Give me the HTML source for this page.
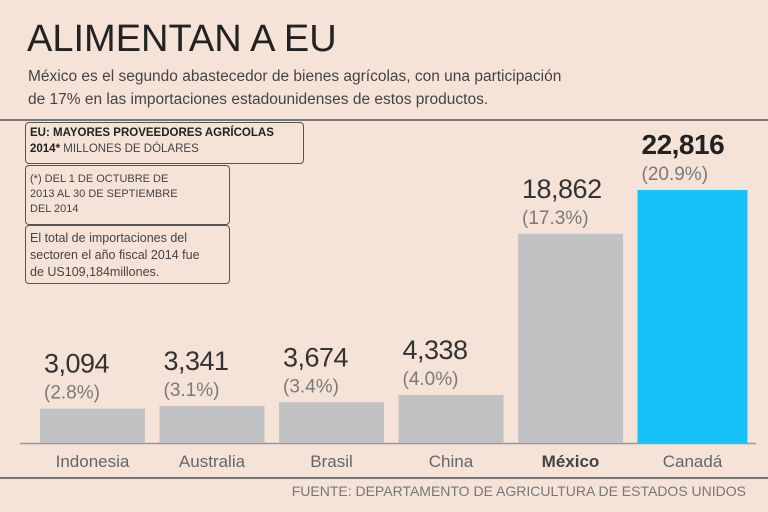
<!DOCTYPE html>
<html><head><meta charset="utf-8">
<style>
body{margin:0;width:768px;height:512px;background:#f5e3d8;font-family:"Liberation Sans",sans-serif;overflow:hidden;position:relative}
.t{position:absolute;white-space:nowrap}
.box{position:absolute;border:1.5px solid #555;border-radius:4px;box-sizing:border-box;color:#444;font-size:11px;line-height:15px;padding:2px 4px}
</style></head><body>
<div class="t" style="left:27px;top:18px;font-size:38px;color:#222">ALIMENTAN A EU</div>
<div class="t" style="left:28px;top:65px;font-size:15.5px;line-height:23px;color:#444">México es el segundo abastecedor de bienes agrícolas, con una participación<br>de 17% en las importaciones estadounidenses de estos productos.</div>
<div style="position:absolute;left:0;top:119px;width:768px;height:1.5px;background:#777"></div>
<div class="box" style="left:25px;top:122px;width:279px;height:42px;font-size:11.5px;line-height:16px"><b style="color:#222">EU: MAYORES PROVEEDORES AGRÍCOLAS<br>2014*</b> MILLONES DE DÓLARES</div>
<div class="box" style="left:25px;top:165px;width:205px;height:60px;padding-top:6px">(*) DEL 1 DE OCTUBRE DE<br>2013 AL 30 DE SEPTIEMBRE<br>DEL 2014</div>
<div class="box" style="left:25px;top:225px;width:205px;height:59px;font-size:12.5px;line-height:17px;padding-top:4px">El total de importaciones del<br>sectoren el año fiscal 2014 fue<br>de US109,184millones.</div>
<svg id="chart" width="768" height="512" style="position:absolute;left:0;top:0"></svg>
<div style="position:absolute;left:0;top:477px;width:768px;height:1.5px;background:#777"></div>
<div class="t" style="right:22px;top:483px;font-size:14px;color:#777">FUENTE: DEPARTAMENTO DE AGRICULTURA DE ESTADOS UNIDOS</div>
<script>
const categories=["Indonesia","Australia","Brasil","China","México","Canadá"];
const values=[3094,3341,3674,4338,18862,22816];
const valueLabels=["3,094","3,341","3,674","4,338","18,862","22,816"];
const pctLabels=["(2.8%)","(3.1%)","(3.4%)","(4.0%)","(17.3%)","(20.9%)"];
const svg=document.getElementById('chart');const NS="http://www.w3.org/2000/svg";
const base=443,scale=253/22816,x0=40,step=119.5,bw=105;
function y(v){return base-v*scale;}
function mk(t,a){const e=document.createElementNS(NS,t);for(const k in a)e.setAttribute(k,a[k]);svg.appendChild(e);return e;}
const ax=mk('line',{x1:20,x2:756,y1:base+0.5,y2:base+0.5,stroke:'#999','stroke-width':1.5});


categories.forEach((c,i)=>{
 const last=i===categories.length-1;
 const bx=x0+i*step,w=last?110:bw,top=y(values[i]);
 const r=mk('rect',{x:bx,y:top,width:w,height:base-top,fill:last?'#17c2f8':'#c0c2c3'});
 
 
 const v=mk('text',{x:bx+4,y:top-36,'font-size':last?28:27,'letter-spacing':-0.5,'font-weight':last?'bold':'normal',fill:last?'#222':'#333','font-family':'Liberation Sans'});
 v.textContent=valueLabels[i];
 
 
 const p=mk('text',{x:bx+4,y:top-10,'font-size':19,fill:'#7a7a7a','font-family':'Liberation Sans'});
 p.textContent=pctLabels[i];
 
 
 const l=mk('text',{x:bx+w/2,y:467,'font-size':17,'text-anchor':'middle',fill:i===4?'#444':'#666','font-weight':i===4?'bold':'normal','font-family':'Liberation Sans'});
 l.textContent=c;
 
 
});
</script>
</body></html>
